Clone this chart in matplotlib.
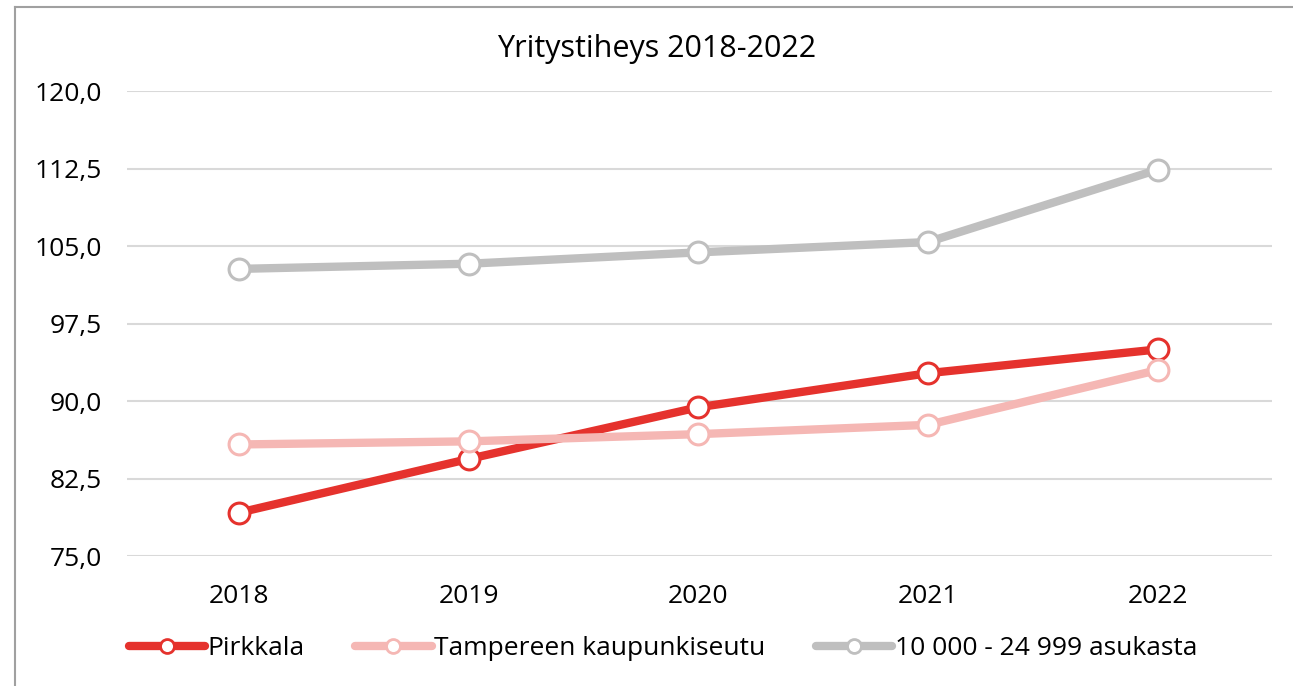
import matplotlib.pyplot as plt
from matplotlib.lines import Line2D
from matplotlib.ticker import FuncFormatter

#---------------------------- Data ----------------------------
years = ['2018', '2019', '2020', '2021', '2022']
pirkkala = [79.2, 84.4, 89.4, 92.7, 95.0]
tampere = [85.8, 86.1, 86.8, 87.7, 93.0]
kokoluokka = [102.8, 103.3, 104.4, 105.4, 112.4]
labels = ['Pirkkala', 'Tampereen kaupunkiseutu', '10 000 - 24 999 asukasta']
colors = ['#e5322d', '#f5b7b4', '#bfbfbf']
yticks = [75.0, 82.5, 90.0, 97.5, 105.0, 112.5, 120.0]
#---------------------------------------------------------------

plt.rcParams['font.family'] = ['Open Sans', 'DejaVu Sans']

fig = plt.figure(figsize=(12.93, 6.86), dpi=100)
ax = fig.add_axes([0.098, 0.1895, 0.886, 0.6775])

x = range(len(years))
for serie, lab, col in zip([pirkkala, tampere, kokoluokka], labels, colors):
    ax.plot(x, serie, color=col, lw=6, marker='o', ms=15, mfc='white',
            mec=col, mew=2.2, label=lab, solid_capstyle='round')

ax.set_xlim(-0.49, 4.5)
ax.set_ylim(75, 120)
ax.set_yticks(yticks)
ax.yaxis.set_major_formatter(FuncFormatter(lambda v, p: f'{v:.1f}'.replace('.', ',')))
ax.set_xticks(list(x))
ax.set_xticklabels(years)
ax.grid(axis='y', color='#d9d9d9', lw=1.5)
ax.set_axisbelow(True)
for s in ax.spines.values():
    s.set_visible(False)
ax.tick_params(length=0, labelsize=19, colors='black', pad=18)
ax.tick_params(axis='x', pad=20)

fig.text(0.508, 0.928, 'Yritystiheys 2018-2022', ha='center', va='center', fontsize=22)

leg = ax.legend(loc='center', bbox_to_anchor=(0.468, -0.2), ncol=3, frameon=False,
                fontsize=19, handlelength=2.9, columnspacing=1.9, handletextpad=0.1)
for h in leg.legend_handles:
    h.set_markersize(10)
    h.set_markeredgewidth(2)

# kehys
fig.add_artist(Line2D([0.0116, 0.0116], [0, 0.99], color='#a0a0a0', lw=1.5, transform=fig.transFigure))
fig.add_artist(Line2D([0.0116, 1.0], [0.99, 0.99], color='#a0a0a0', lw=1.5, transform=fig.transFigure))

plt.savefig('out.png', dpi=100)
